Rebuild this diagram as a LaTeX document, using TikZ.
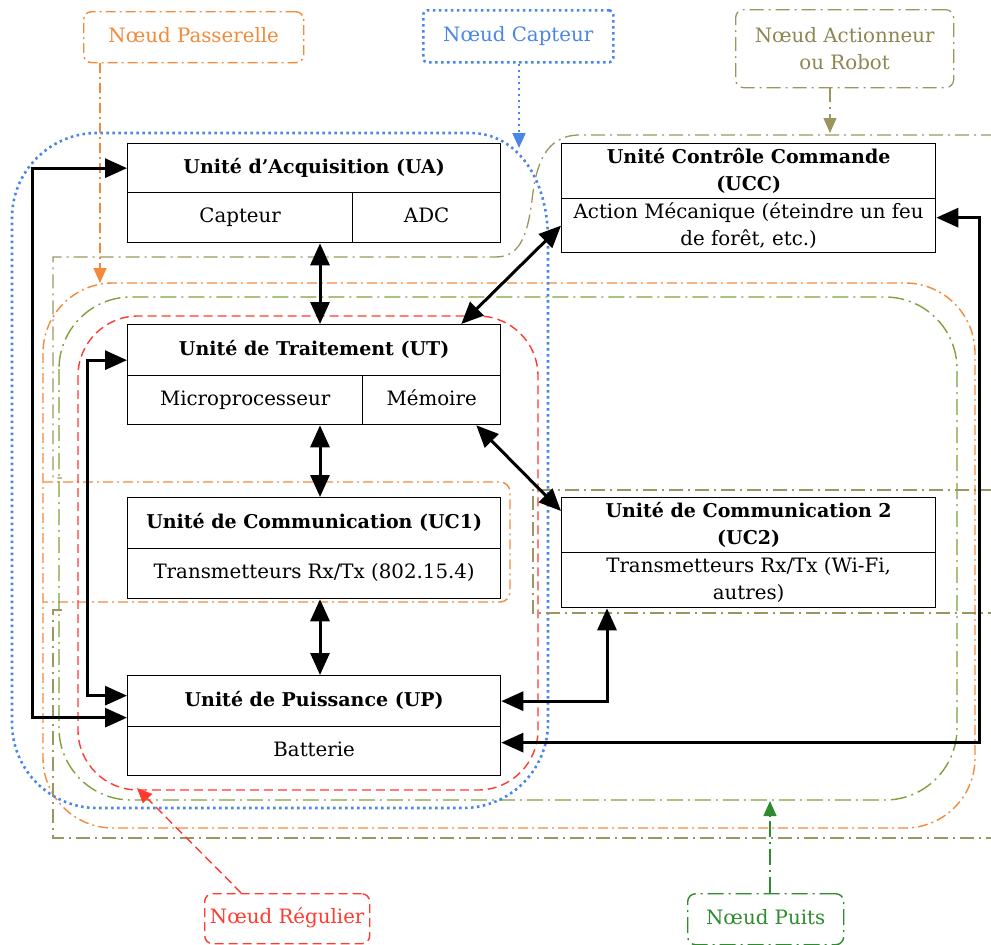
\documentclass[tikz,border=0pt]{standalone}
\usepackage{fontspec}
\setmainfont{DejaVu Serif}
\usetikzlibrary{arrows.meta,calc}
\definecolor{cblue}{HTML}{4A86E8}
\definecolor{cred}{HTML}{FF3B30}
\definecolor{corange}{HTML}{F28A3A}
\definecolor{cgreen}{HTML}{7FA03C}
\definecolor{colive}{HTML}{9B9660}
\definecolor{ctolive}{HTML}{8C8650}
\definecolor{cpuits}{HTML}{2E8B2E}
\newcommand\myfs{\fontsize{19.8}{27}\selectfont}
\newcommand\myfb{\fontsize{19}{27}\selectfont\bfseries}
\tikzset{
  cell/.style={draw, line width=1.3pt, fill=white, inner sep=0pt, anchor=north west, align=center, font=\myfs},
  one/.style={text height=14pt, text depth=4pt},
  hcell/.style={cell, font=\myfb},
  conn/.style={line width=3pt, {Triangle[length=22pt,width=19pt]}-{Triangle[length=22pt,width=19pt]}},
  capteur/.style={cblue, line width=2.6pt, dash pattern=on 2.5pt off 3.5pt},
  regul/.style={cred, line width=1.4pt, dash pattern=on 9pt off 5pt},
  passer/.style={corange, line width=1.4pt, dash pattern=on 10pt off 4pt on 2pt off 4pt},
  puits/.style={cgreen, line width=1.4pt, dash pattern=on 16pt off 5pt on 2pt off 5pt},
  action/.style={colive, line width=1.3pt, dash pattern=on 14pt off 5pt on 2pt off 5pt},
  lab/.style={anchor=north west, inner sep=0pt, align=center, font=\myfs, rounded corners=8pt},
  ltip/.style={-{Triangle[length=15pt,width=13pt]}}
}
\begin{document}
\begin{tikzpicture}[x=1pt,y=-1pt]
\useasboundingbox (0,0) rectangle (991,945);
% region outlines
\draw[passer, rounded corners=70pt] (43,283) rectangle (975,828);
\draw[passer, rounded corners=10pt] (43,482) -- (510,482) -- (510,602) -- (43,602);
\draw[puits, rounded corners=72pt] (59,297) rectangle (957,800);
\draw[regul, rounded corners=60pt] (78,316) rectangle (538,790);
\draw[capteur] (548,240) -- (548,723) arc[start angle=0, end angle=90, radius=85]
   -- (97,808) arc[start angle=90, end angle=180, radius=85]
   -- (12,218) arc[start angle=180, end angle=270, radius=85]
   -- (470,133) .. controls (518,133) and (548,180) .. (548,240) -- cycle;
\draw[action] (995,135) -- (580,135) .. controls (545,135) and (536,165) .. (532,200)
   .. controls (527,240) and (518,257) .. (495,257) -- (53,257) -- (53,478) -- (62,478);
\draw[action] (995,490) -- (533,490) -- (533,613) -- (995,613);
\draw[action] (62,610) -- (53,610) -- (53,838) -- (995,838);
% boxes
\node[hcell, one, minimum width=373pt, minimum height=49pt] (UAh) at (127,143) {Unité d’Acquisition (UA)};
\node[cell, one, minimum width=225pt, minimum height=50pt] (UAc) at (127,192) {Capteur};
\node[cell, one, minimum width=148pt, minimum height=50pt] (UAd) at (352,192) {ADC};
\node[hcell, minimum width=374pt, minimum height=55pt] (UCCh) at (561,143) {Unité Contrôle Commande\\(UCC)};
\node[cell, minimum width=374pt, minimum height=54pt] (UCCb) at (561,198) {Action Mécanique (éteindre un feu\\de forêt, etc.)};
\node[hcell, one, minimum width=373pt, minimum height=51pt] (UTh) at (127,324) {Unité de Traitement (UT)};
\node[cell, one, minimum width=235pt, minimum height=49pt] (UTm) at (127,375) {Microprocesseur};
\node[cell, one, minimum width=138pt, minimum height=49pt] (UTmem) at (362,375) {Mémoire};
\node[hcell, one, minimum width=373pt, minimum height=51pt] (UC1h) at (127,497) {Unité de Communication (UC1)};
\node[cell, one, minimum width=373pt, minimum height=50pt] (UC1b) at (127,548) {Transmetteurs Rx/Tx (802.15.4)};
\node[hcell, minimum width=374pt, minimum height=55pt] (UC2h) at (561,497) {Unité de Communication 2\\(UC2)};
\node[cell, minimum width=374pt, minimum height=55pt] (UC2b) at (561,552) {Transmetteurs Rx/Tx (Wi-Fi,\\autres)};
\node[hcell, one, minimum width=373pt, minimum height=51pt] (UPh) at (127,675) {Unité de Puissance (UP)};
\node[cell, one, minimum width=373pt, minimum height=49pt] (UPb) at (127,726) {Batterie};
% labels
\node[lab, one, draw=corange, passer, text=corange, minimum width=220pt, minimum height=51pt] (LPass) at (83,11) {Nœud Passerelle};
\node[lab, one, draw=cblue, capteur, rounded corners=4pt, text=cblue, minimum width=190pt, minimum height=52pt] (LCap) at (422,9) {Nœud Capteur};
\node[lab, draw=colive, action, text=ctolive, minimum width=218pt, minimum height=78pt] (LAct) at (735,9) {Nœud Actionneur\\ou Robot};
\node[lab, one, draw=cred, regul, text=cred, minimum width=165pt, minimum height=50pt] (LReg) at (204,893) {Nœud Régulier};
\node[lab, one, draw=cpuits, puits, draw=cpuits, text=cpuits, minimum width=156pt, minimum height=51pt] (LPuits) at (687,893) {Nœud Puits};
% label arrows
\coordinate (tPass) at (100,283);
\coordinate (tCap) at (519,148);
\coordinate (tAct) at (830,133);
\coordinate (tReg) at (137,788);
\coordinate (tPuits) at (770,801);
\draw[passer, ltip] (LPass.south -| tPass) -- (tPass);
\draw[capteur, line width=2.2pt, ltip] (LCap.south -| tCap) -- (tCap);
\draw[action, ltip] (LAct.south -| tAct) -- (tAct);
\draw[regul, ltip] ([xshift=-46pt]LReg.north) -- (tReg);
\draw[puits, draw=cpuits, ltip] (LPuits.north -| tPuits) -- (tPuits);
% connectors
\coordinate (vx) at (320,0);
\coordinate (lo) at (32,0);
\coordinate (li) at (87,0);
\coordinate (rx) at (607,0);
\coordinate (fx) at (979,0);
\draw[conn] (UAc.south -| vx) -- (UTh.north -| vx);
\draw[conn] (UTm.south -| vx) -- (UC1h.north -| vx);
\draw[conn] (UC1b.south -| vx) -- (UPh.north -| vx);
\draw[conn] ([xshift=-40pt]UTh.north east) -- (UCCb.west);
\draw[conn] ([xshift=-25pt]UTmem.south east) -- ([yshift=-14pt]UC2h.north west);
\draw[conn] ([yshift=-16.5pt]UPh.west) -- ([yshift=-16.5pt]UPh.west -| lo) -- (UAh.west -| lo) -- (UAh.west);
\draw[conn] ([yshift=5.5pt]UPh.west) -- ([yshift=5.5pt]UPh.west -| li) -- ([yshift=-10pt]UTh.west -| li) -- ([yshift=-10pt]UTh.west);
\draw[conn] (UC2b.south -| rx) |- (UPh.east);
\draw[conn] ([yshift=8pt]UCCb.east) -- ([yshift=8pt]UCCb.east -| fx) |- ([yshift=8.5pt]UPb.east);
\end{tikzpicture}
\end{document}
